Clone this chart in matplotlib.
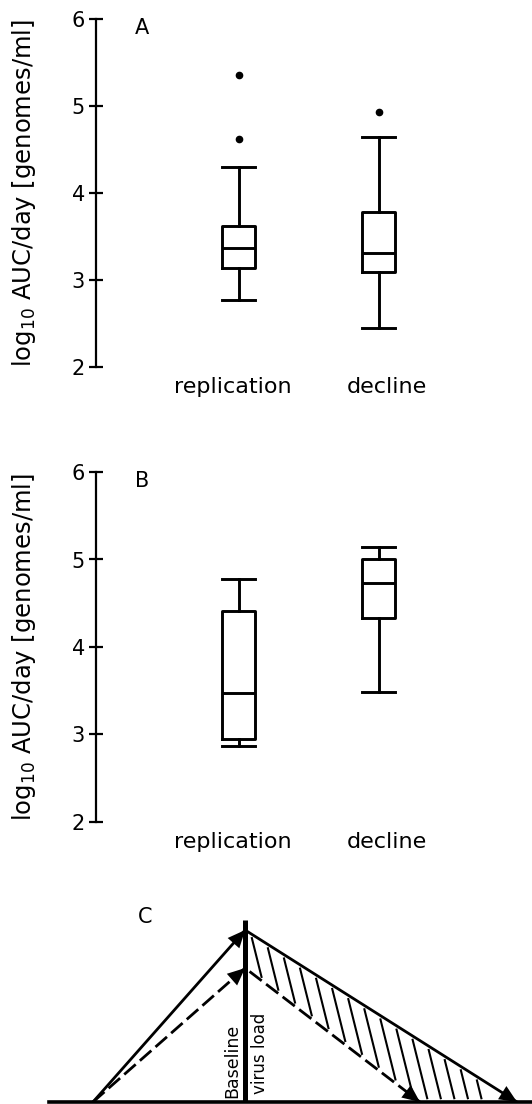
import numpy as np
import matplotlib
matplotlib.use('Agg')
import matplotlib.pyplot as plt
from matplotlib.transforms import ScaledTranslation

plt.rcParams['font.family'] = ['DejaVu Sans']
plt.rcParams['mathtext.fontset'] = 'dejavusans'

# ---- data -------------------------------------------------------------
groups = ['replication', 'decline']
positions = [1, 2]

# panel A: box plot statistics (log10 AUC/day)
a_whislo = [2.77, 2.45]
a_q1 = [3.14, 3.09]
a_med = [3.37, 3.31]
a_q3 = [3.62, 3.78]
a_whishi = [4.30, 4.64]
a_fliers = [[4.62, 5.36], [4.93]]

# panel B
b_whislo = [2.87, 3.49]
b_q1 = [2.95, 4.33]
b_med = [3.47, 4.73]
b_q3 = [4.41, 5.00]
b_whishi = [4.78, 5.14]
b_fliers = [[], []]

# panel C: schematic (arbitrary units)
t_onset = 9.1
t_peak = 40.6
t_end_total = 96.9
t_end_reduced = 76.8
load_peak_total = 90.5
load_peak_reduced = 70.5
baseline_mark_top = 95.8

ylabel = r'log$_{\mathregular{10}}$ AUC/day [genomes/ml]'


def box_stats(whislo, q1, med, q3, whishi, fliers):
    return [dict(whislo=whislo[i], q1=q1[i], med=med[i], q3=q3[i],
                 whishi=whishi[i], fliers=fliers[i], label=groups[i])
            for i in range(len(groups))]


def draw_box_panel(ax, stats, letter):
    lp = dict(lw=2.1, color='k')
    ax.bxp(stats, positions=positions, widths=0.236, capwidths=0.236,
           boxprops=lp, medianprops=lp, whiskerprops=lp, capprops=lp,
           flierprops=dict(marker='o', markerfacecolor='k',
                           markeredgecolor='k', markersize=4.5))
    ax.set_xlim(-0.02, 3.1)
    ax.set_ylim(2, 6)
    ax.set_yticks([2, 3, 4, 5, 6])
    ax.set_xticks(positions)
    ax.set_xticklabels(groups)
    for s in ['top', 'right', 'bottom']:
        ax.spines[s].set_visible(False)
    ax.spines['left'].set_linewidth(1.6)
    ax.tick_params(axis='y', direction='inout', length=10, width=1.6,
                   labelsize=15, pad=3)
    ax.tick_params(axis='x', length=0, labelsize=16, pad=7)
    # labels sit a little off the box centres in the original
    for lab, dx in zip(ax.get_xticklabels(), [-6, 8]):
        lab.set_transform(lab.get_transform() + ScaledTranslation(dx / 100, 0, fig.dpi_scale_trans))
    ax.set_ylabel(ylabel, fontsize=17.5)
    ax.yaxis.set_label_coords(-0.133, 0.5)
    ax.text(0.105, 0.974, letter, transform=ax.transAxes, fontsize=15,
            ha='center', va='center')


fig = plt.figure(figsize=(5.32, 11.04), dpi=100)
W, H = 532.0, 1104.0

ax_a = fig.add_axes([96 / W, 1 - 367 / H, 437 / W, 348 / H])
draw_box_panel(ax_a, box_stats(a_whislo, a_q1, a_med, a_q3, a_whishi, a_fliers), 'A')

ax_b = fig.add_axes([96 / W, 1 - 822 / H, 437 / W, 350 / H])
draw_box_panel(ax_b, box_stats(b_whislo, b_q1, b_med, b_q3, b_whishi, b_fliers), 'B')

# ---- panel C schematic -------------------------------------------------
ax_c = fig.add_axes([49 / W, 2 / H, 483 / W, 190 / H])
ax_c.set_xlim(0, 100)
ax_c.set_ylim(0, 100)
ax_c.axis('off')

ax_c.axhline(0, color='k', lw=2.6, clip_on=False)
ax_c.vlines(t_peak, 0, baseline_mark_top, color='k', lw=3.6)

ax_c.plot([t_onset, t_peak, t_end_total], [0, load_peak_total, 0],
          color='k', lw=2, solid_capstyle='butt')
ax_c.plot([t_onset, t_peak, t_end_reduced], [0, load_peak_reduced, 0],
          color='k', lw=2, linestyle=(0, (5.5, 2)))


def arrow_head(ax, x0, y0, x1, y1):
    f = 0.08
    ax.annotate('', xy=(x1, y1), xytext=(x1 - f * (x1 - x0), y1 - f * (y1 - y0)),
                arrowprops=dict(arrowstyle='-|>,head_length=0.9,head_width=0.4',
                                color='k', lw=0, shrinkA=0, shrinkB=0,
                                mutation_scale=14))


arrow_head(ax_c, t_onset, 0, t_peak, load_peak_total)
arrow_head(ax_c, t_onset, 0, t_peak, load_peak_reduced)
arrow_head(ax_c, t_peak, load_peak_total, t_end_total, 0)
arrow_head(ax_c, t_peak, load_peak_reduced, t_end_reduced, 0)

# hatching between total and reduced decline
slope = 10.2
gap = 2.0
for x0 in np.linspace(42.0, 88.6, 15):
    upper = np.interp(x0, [t_peak, t_end_total], [load_peak_total, 0])
    y_top = upper - gap
    s = np.linspace(0, 15, 3000)
    xs = x0 + s
    ys = y_top - slope * s
    lower = np.interp(xs, [t_peak, t_end_reduced], [load_peak_reduced, 0]) + gap
    idx = np.argmax(ys <= lower)
    ax_c.plot([x0, xs[idx]], [y_top, ys[idx]], color='k', lw=1.5)

ax_c.annotate('Baseline', xy=(t_peak, 0), xytext=(-3, 3), textcoords='offset points',
              rotation=90, ha='right', va='bottom', fontsize=12.5)
ax_c.annotate('virus load', xy=(t_peak, 0), xytext=(4, 6), textcoords='offset points',
              rotation=90, ha='left', va='bottom', fontsize=12)
ax_c.text(0.199, 0.974, 'C', transform=ax_c.transAxes, fontsize=15,
          ha='center', va='center')

fig.savefig('out.png', dpi=100)
